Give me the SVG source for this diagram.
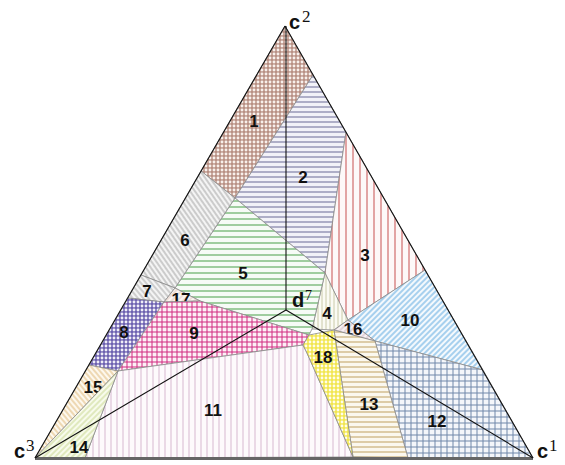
<svg xmlns="http://www.w3.org/2000/svg" width="565" height="465" viewBox="0 0 565 465">
<style>
.r{stroke:#8a8a8a;stroke-width:0.8;stroke-linejoin:round}
.lb{font-family:"Liberation Sans",Arial,sans-serif;font-weight:bold;font-size:17px;fill:#111;text-anchor:middle}
.cv{font-family:"Liberation Sans",Arial,sans-serif;font-weight:bold;font-size:20px;fill:#111}
.sp{font-family:"Liberation Serif","Times New Roman",serif;font-size:17px;fill:#111}
.ln{stroke:#111;stroke-width:1.1;fill:none}
</style>
<defs>
<pattern id="p1" width="4" height="4" patternUnits="userSpaceOnUse"><rect width="4" height="4" fill="#b89084"/><circle cx="2" cy="2" r="1.45" fill="#f8f0ec"/></pattern>
<pattern id="p2" width="6" height="5" patternUnits="userSpaceOnUse"><rect width="6" height="5" fill="#f2f2f8"/><line x1="0" y1="2" x2="6" y2="2" stroke="#6a6a96" stroke-width="1"/></pattern>
<pattern id="p3" width="7" height="6" patternUnits="userSpaceOnUse"><rect width="7" height="6" fill="#fdf8f8"/><line x1="3" y1="0" x2="3" y2="6" stroke="#c85050" stroke-width="1"/></pattern>
<pattern id="p4" width="4" height="6" patternUnits="userSpaceOnUse"><rect width="4" height="6" fill="#fbfbf4"/><line x1="2" y1="0" x2="2" y2="6" stroke="#c4c4a0" stroke-width="0.9"/></pattern>
<pattern id="p5" width="6" height="6" patternUnits="userSpaceOnUse"><rect width="6" height="6" fill="#f6fbf6"/><line x1="0" y1="3" x2="6" y2="3" stroke="#48a048" stroke-width="1"/></pattern>
<pattern id="p6" width="4" height="4" patternUnits="userSpaceOnUse" patternTransform="rotate(-35)"><rect width="4" height="4" fill="#f4f4f4"/><line x1="2" y1="0" x2="2" y2="4" stroke="#9a9a9a" stroke-width="0.9"/></pattern>
<pattern id="p7" width="4" height="4" patternUnits="userSpaceOnUse" patternTransform="rotate(-40)"><rect width="4" height="4" fill="#f4f4f4"/><line x1="2" y1="0" x2="2" y2="4" stroke="#a0a0a0" stroke-width="0.9"/></pattern>
<pattern id="p8" width="4" height="4" patternUnits="userSpaceOnUse"><rect width="4" height="4" fill="#6c60b0"/><circle cx="2" cy="2" r="1.45" fill="#f0eef8"/></pattern>
<pattern id="p9" width="5" height="5" patternUnits="userSpaceOnUse"><rect width="5" height="5" fill="#fdf0f6"/><line x1="2" y1="0" x2="2" y2="5" stroke="#d02a80" stroke-width="1"/><line x1="0" y1="2" x2="5" y2="2" stroke="#d02a80" stroke-width="1"/></pattern>
<pattern id="p10" width="4" height="4" patternUnits="userSpaceOnUse" patternTransform="rotate(45)"><rect width="4" height="4" fill="#f4f9fd"/><line x1="2" y1="0" x2="2" y2="4" stroke="#5aa8e0" stroke-width="1"/></pattern>
<pattern id="p11" width="6" height="6" patternUnits="userSpaceOnUse"><rect width="6" height="6" fill="#fdfafc"/><line x1="3" y1="0" x2="3" y2="6" stroke="#d8b8d0" stroke-width="1"/></pattern>
<pattern id="p12" width="6" height="6" patternUnits="userSpaceOnUse"><rect width="6" height="6" fill="#f4f6fa"/><line x1="3" y1="0" x2="3" y2="6" stroke="#7088aa" stroke-width="1"/><line x1="0" y1="3" x2="6" y2="3" stroke="#7088aa" stroke-width="1"/></pattern>
<pattern id="p13" width="6" height="5" patternUnits="userSpaceOnUse"><rect width="6" height="5" fill="#fbf8ee"/><line x1="0" y1="2" x2="6" y2="2" stroke="#c0a060" stroke-width="1"/></pattern>
<pattern id="p14" width="4" height="4" patternUnits="userSpaceOnUse" patternTransform="rotate(45)"><rect width="4" height="4" fill="#f8fbec"/><line x1="2" y1="0" x2="2" y2="4" stroke="#c8d890" stroke-width="1"/></pattern>
<pattern id="p15" width="4" height="4" patternUnits="userSpaceOnUse" patternTransform="rotate(-40)"><rect width="4" height="4" fill="#fdf8ee"/><line x1="2" y1="0" x2="2" y2="4" stroke="#e0b878" stroke-width="1"/></pattern>
<pattern id="p16" width="4" height="4" patternUnits="userSpaceOnUse" patternTransform="rotate(45)"><rect width="4" height="4" fill="#f8f2f4"/><line x1="2" y1="0" x2="2" y2="4" stroke="#d0b8c4" stroke-width="1"/></pattern>
<pattern id="p17" width="4" height="4" patternUnits="userSpaceOnUse" patternTransform="rotate(45)"><rect width="4" height="4" fill="#fcf6f2"/><line x1="2" y1="0" x2="2" y2="4" stroke="#e0c8c0" stroke-width="1"/></pattern>
<pattern id="p18" width="4" height="4" patternUnits="userSpaceOnUse"><rect width="4" height="4" fill="#f2e650"/><circle cx="2" cy="2" r="1.4" fill="#fffdea"/></pattern>
</defs>
<rect width="565" height="465" fill="#fff"/>
<g id="r1"><polygon class="r" fill="url(#p1)" points="285,26 313,75 235,198 201,171"/><text class="lb" x="254" y="127">1</text></g>
<g id="r2"><polygon class="r" fill="url(#p2)" points="313,75 346,132 325,273 235,198"/><text class="lb" x="303" y="183">2</text></g>
<g id="r3"><polygon class="r" fill="url(#p3)" points="346,132 425,270 348,320 325,273"/><text class="lb" x="365" y="261">3</text></g>
<g id="r4"><polygon class="r" fill="url(#p4)" points="325,273 348,320 334,330 312,329"/><text class="lb" x="327" y="319">4</text></g>
<g id="r5"><polygon class="r" fill="url(#p5)" points="235,198 325,273 312,329 309,335 200,301 175,288"/><text class="lb" x="243" y="279">5</text></g>
<g id="r6"><polygon class="r" fill="url(#p6)" points="201,171 235,198 175,288 141,275"/><text class="lb" x="185" y="246">6</text></g>
<g id="r7"><polygon class="r" fill="url(#p7)" points="141,275 175,288 164,302 128,298"/><text class="lb" x="147" y="297">7</text></g>
<g id="r17"><polygon class="r" fill="url(#p17)" points="175,288 200,301 164,302"/><text class="lb" x="181" y="305">17</text></g>
<g id="r8"><polygon class="r" fill="url(#p8)" points="128,298 164,302 118,371 89,365"/><text class="lb" x="124" y="338">8</text></g>
<g id="r9"><polygon class="r" fill="url(#p9)" points="164,302 200,301 309,335 303,345 118,371"/><text class="lb" x="194" y="339">9</text></g>
<g id="r10"><polygon class="r" fill="url(#p10)" points="425,270 483,370 375,341 348,320"/><text class="lb" x="410" y="326">10</text></g>
<g id="r16"><polygon class="r" fill="url(#p16)" points="334,330 348,320 375,341"/><text class="lb" x="353" y="335">16</text></g>
<g id="r11"><polygon class="r" fill="url(#p11)" points="118,371 303,345 307,353 353,457 85,458"/><text class="lb" x="213" y="416">11</text></g>
<g id="r12"><polygon class="r" fill="url(#p12)" points="375,341 483,370 533,458 408,458"/><text class="lb" x="437" y="427">12</text></g>
<g id="r13"><polygon class="r" fill="url(#p13)" points="334,330 375,341 408,458 353,457"/><text class="lb" x="369" y="410">13</text></g>
<g id="r18"><polygon class="r" fill="url(#p18)" points="303,345 309,335 334,330 353,457 307,353"/><text class="lb" x="323" y="363">18</text></g>
<g id="r15"><polygon class="r" fill="url(#p15)" points="89,365 118,371 35,458"/><text class="lb" x="93" y="393">15</text></g>
<g id="r14"><polygon class="r" fill="url(#p14)" points="118,371 85,458 35,458"/><text class="lb" x="79" y="453">14</text></g>
<g id="connectors">
<line class="ln" x1="285" y1="26" x2="35" y2="458"/>
<line class="ln" x1="285" y1="26" x2="533" y2="458"/>
<line x1="35" y1="458.5" x2="533" y2="458.5" stroke="#666" stroke-width="3"/>
<line class="ln" x1="286" y1="26" x2="286" y2="310"/>
<line class="ln" x1="286" y1="310" x2="35" y2="458"/>
<line class="ln" x1="286" y1="310" x2="533" y2="458"/>
</g>
<g id="vlabels">
<text class="cv" x="289" y="29">c</text><text class="sp" x="302" y="22">2</text>
<text class="cv" x="14" y="458">c</text><text class="sp" x="26" y="451">3</text>
<text class="cv" x="537" y="458">c</text><text class="sp" x="549" y="451">1</text>
<text class="cv" x="292" y="307">d</text><text class="sp" x="305" y="300" style="font-size:14px">7</text>
</g>
</svg>
